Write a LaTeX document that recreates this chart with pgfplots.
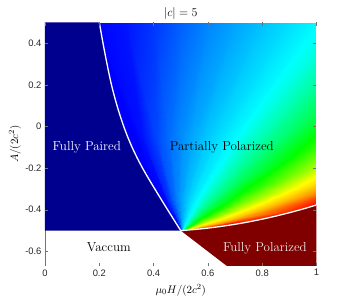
\documentclass[border=0pt]{standalone}
\usepackage{fontspec}
\setsansfont{Liberation Sans}
\usepackage{pgfplots}
\pgfplotsset{compat=1.18}
\definecolor{paired}{RGB}{0,0,143}
\definecolor{fpol}{RGB}{128,0,0}
\pgfplotsset{colormap={phase}{rgb255(0)=(0,0,128) rgb255(1)=(0,0,255) rgb255(3)=(0,255,255) rgb255(4)=(0,255,0) rgb255(5)=(255,255,0) rgb255(7)=(255,0,0) rgb255(8)=(128,0,0)}}
\begin{document}
\begin{tikzpicture}
\begin{axis}[
  scale only axis, width=271.5pt, height=243.7pt,
  view={0}{90},
  xmin=0, xmax=1, ymin=-0.67, ymax=0.5, zmin=-1, zmax=1,
  enlargelimits=false,
  hide z axis,
  axis line style={draw=none},
  xtick={0,0.2,0.4,0.6,0.8,1},
  ytick={-0.6,-0.4,-0.2,0,0.2,0.4},
  tick align=inside,
  major tick length=3.3pt,
  tick style={black!55, line width=0.4pt},
  tick label style={font=\fontsize{9.4}{11}\selectfont\sffamily, text=black!85},
  /pgf/number format/assume math mode=true,
  colormap name=phase, point meta min=0, point meta max=1,
  every axis title/.style={at={(axis description cs:0.5,1)}, anchor=center, yshift=9pt, font=\fontsize{11.5}{13}\selectfont},
  every axis x label/.style={at={(axis description cs:0.5,0)}, anchor=center, yshift=-24pt, font=\fontsize{11}{13}\selectfont},
  every axis y label/.style={at={(axis description cs:0,0.5)}, xshift=-30pt, rotate=90, anchor=center, font=\fontsize{11}{13}\selectfont},
  title={$|c| = 5$},
  xlabel={$\mu_0 H/(2c^2)$},
  ylabel={$A/(2c^2)$},
]
% visible axis lines (covered by the coloured regions)
\addplot3[black!55, line width=0.8pt] coordinates {(0,-0.67,0) (0,0.5,0)};
\addplot3[black!25, line width=0.8pt] coordinates {(0,-0.67,0) (1,-0.67,0)};

% partially polarized region: rays from the tricritical point, colour = polarization
\addplot3[surf, shader=interp, mesh/cols=4, point meta=explicit]
 table[x index=0, y index=1, z index=2, meta index=3] {
0.5 -0.5 0 0.125
0.4892 -0.485 0 0.125
0.4676 -0.455 0 0.125
0.428 -0.4 0 0.125
0.5 -0.5 0 0.125
0.4758 -0.455 0 0.125
0.4273 -0.365 0 0.125
0.3385 -0.2 0 0.125
0.5 -0.5 0 0.13
0.4611 -0.41 0 0.13
0.3834 -0.23 0 0.125
0.2408 0.1 0 0.125
0.5 -0.5 0 0.185
0.4519 -0.35 0 0.17
0.3556 -0.05 0 0.14
0.179 0.5 0 0.125
0.5 -0.5 0 0.233
0.47 -0.35 0 0.222
0.41 -0.05 0 0.193
0.3 0.5 0 0.145
0.5 -0.5 0 0.265
0.485 -0.35 0 0.255
0.455 -0.05 0 0.232
0.4 0.5 0 0.178
0.5 -0.5 0 0.293
0.5 -0.35 0 0.283
0.5 -0.05 0 0.263
0.5 0.5 0 0.219
0.5 -0.5 0 0.317
0.515 -0.35 0 0.309
0.545 -0.05 0 0.291
0.6 0.5 0 0.255
0.5 -0.5 0 0.339
0.53 -0.35 0 0.332
0.59 -0.05 0 0.317
0.7 0.5 0 0.285
0.5 -0.5 0 0.359
0.545 -0.35 0 0.353
0.635 -0.05 0 0.340
0.8 0.5 0 0.314
0.5 -0.5 0 0.377
0.56 -0.35 0 0.372
0.68 -0.05 0 0.362
0.9 0.5 0 0.341
0.5 -0.5 0 0.394
0.575 -0.35 0 0.390
0.725 -0.05 0 0.383
1 0.5 0 0.370
0.5 -0.5 0 0.408
0.575 -0.3725 0 0.406
0.725 -0.1175 0 0.402
1 0.35 0 0.392
0.5 -0.5 0 0.426
0.575 -0.395 0 0.426
0.725 -0.185 0 0.425
1 0.2 0 0.424
0.5 -0.5 0 0.452
0.575 -0.4175 0 0.454
0.725 -0.2525 0 0.457
1 0.05 0 0.464
0.5 -0.5 0 0.492
0.575 -0.44 0 0.496
0.725 -0.32 0 0.505
1 -0.1 0 0.524
0.5 -0.5 0 0.533
0.575 -0.455 0 0.540
0.725 -0.365 0 0.554
1 -0.2 0 0.586
0.5 -0.5 0 0.575
0.575 -0.4655 0 0.585
0.725 -0.3965 0 0.607
1 -0.27 0 0.656
0.5 -0.5 0 0.617
0.575 -0.473 0 0.630
0.725 -0.419 0 0.661
1 -0.32 0 0.737
0.5 -0.5 0 0.650
0.575 -0.4775 0 0.667
0.725 -0.4325 0 0.708
1 -0.35 0 0.818
0.5 -0.5 0 0.712
0.575 -0.4835 0 0.737
0.725 -0.4505 0 0.803
1 -0.39 0 0.900
0.5 -0.5 0 0.787
0.5525 -0.4918 0 0.817
0.6575 -0.4753 0 0.894
0.85 -0.445 0 0.900
0.5 -0.5 0 0.9
0.53 -0.4973 0 0.9
0.59 -0.4919 0 0.9
0.7 -0.482 0 0.9
0.5 -0.5 0 0.9
0.545 -0.5 0 0.9
0.635 -0.5 0 0.9
0.8 -0.5 0 0.9
};

% fully paired region
\addplot3[fill=paired, draw=none] coordinates {
(0,-0.5,0) (0.5,-0.5,0) (0.4757,-0.45,0) (0.4516,-0.4,0) (0.4279,-0.35,0)
(0.4044,-0.3,0) (0.3813,-0.25,0) (0.3592,-0.2,0) (0.3391,-0.15,0) (0.3208,-0.1,0)
(0.3045,-0.05,0) (0.29,0,0) (0.2771,0.05,0) (0.2652,0.1,0) (0.2545,0.15,0)
(0.2448,0.2,0) (0.2363,0.25,0) (0.2284,0.3,0) (0.2209,0.35,0) (0.2136,0.4,0)
(0.2067,0.45,0) (0.2,0.5,0) (0.1949,0.54,0) (0,0.54,0)};

% fully polarized region
\addplot3[fill=fpol, draw=none] coordinates {
(0.5,-0.5,0) (0.55,-0.4948,0) (0.6,-0.488,0) (0.65,-0.4796,0) (0.7,-0.4697,0)
(0.75,-0.4582,0) (0.8,-0.4451,0) (0.85,-0.4304,0) (0.9,-0.4142,0) (0.95,-0.3964,0)
(1,-0.377,0) (1.02,-0.369,0) (1.02,-0.72,0) (0.72,-0.72,0)};

% phase boundaries
\addplot3[white, line width=1.3pt, smooth] coordinates {
(0.5,-0.5,0) (0.4757,-0.45,0) (0.4516,-0.4,0) (0.4279,-0.35,0)
(0.4044,-0.3,0) (0.3813,-0.25,0) (0.3592,-0.2,0) (0.3391,-0.15,0) (0.3208,-0.1,0)
(0.3045,-0.05,0) (0.29,0,0) (0.2771,0.05,0) (0.2652,0.1,0) (0.2545,0.15,0)
(0.2448,0.2,0) (0.2363,0.25,0) (0.2284,0.3,0) (0.2209,0.35,0) (0.2136,0.4,0)
(0.2067,0.45,0) (0.2,0.5,0) (0.1949,0.54,0)};
\addplot3[white, line width=1.3pt, smooth] coordinates {
(0.5,-0.5,0) (0.55,-0.4948,0) (0.6,-0.488,0) (0.65,-0.4796,0) (0.7,-0.4697,0)
(0.75,-0.4582,0) (0.8,-0.4451,0) (0.85,-0.4304,0) (0.9,-0.4142,0) (0.95,-0.3964,0)
(1,-0.377,0) (1.02,-0.369,0)};

\node[font=\fontsize{13}{15}\selectfont, text=white] at (axis cs:0.154,-0.1,0) {Fully Paired};
\node[font=\fontsize{13}{15}\selectfont, text=black] at (axis cs:0.651,-0.1,0) {Partially Polarized};
\node[font=\fontsize{13}{15}\selectfont, text=black] at (axis cs:0.235,-0.578,0) {Vaccum};
\node[font=\fontsize{13}{15}\selectfont, text=white!92!black] at (axis cs:0.81,-0.583,0) {Fully Polarized};
\coordinate (bl) at (axis cs:0,-0.67,0);
\end{axis}
\pgfresetboundingbox
\path[use as bounding box] ([shift={(-45pt,-33pt)}]bl) rectangle ([shift={(304pt,266pt)}]bl);
\end{tikzpicture}
\end{document}
